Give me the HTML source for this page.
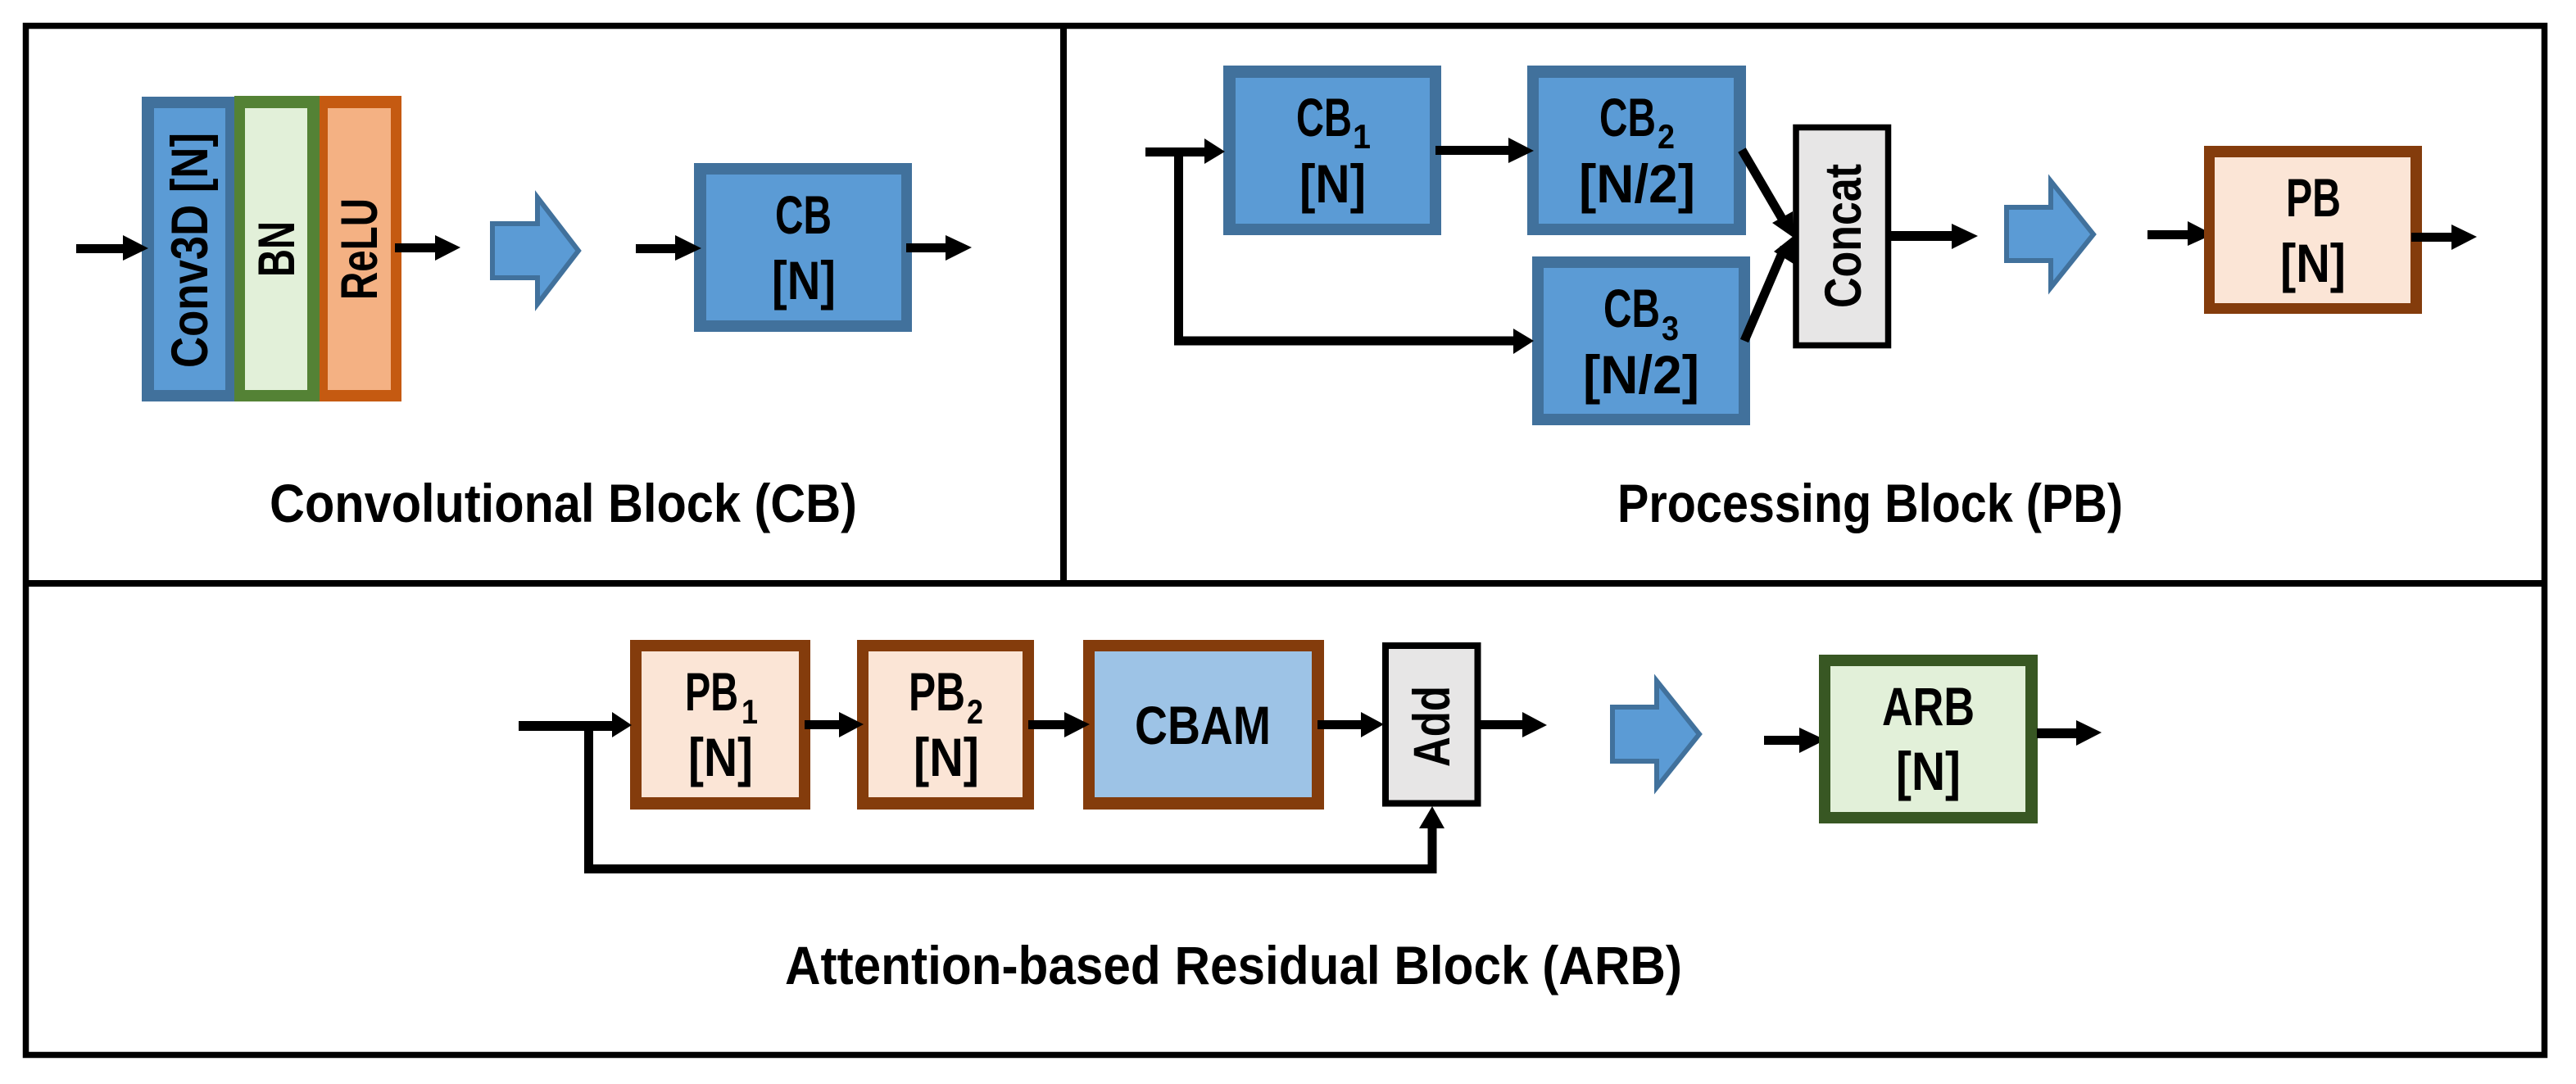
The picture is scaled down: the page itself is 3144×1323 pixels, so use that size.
<!DOCTYPE html>
<html>
<head>
<meta charset="utf-8">
<style>
html,body{margin:0;padding:0;background:#fff;width:3144px;height:1323px;overflow:hidden}
svg{display:block}
text{font-family:"Liberation Sans",sans-serif;font-weight:bold;fill:#000}
.t{font-size:66px}
.s{font-size:42px}
.r{font-size:63px}
</style>
</head>
<body>
<svg width="3144" height="1323" viewBox="0 0 3144 1323" xmlns="http://www.w3.org/2000/svg">
<rect width="3144" height="1323" fill="#fff"/>
<!-- Frame -->
<rect x="31.5" y="31.5" width="3074" height="1256" fill="none" stroke="#000" stroke-width="7.5"/>
<rect x="28" y="708" width="3081" height="8" fill="#000"/>
<rect x="1294" y="28" width="8" height="684" fill="#000"/>

<!-- CB panel -->
<rect x="173" y="118" width="113" height="372" fill="#41719C"/>
<rect x="188" y="132" width="87" height="344" fill="#5B9BD5"/>
<rect x="286" y="117" width="104" height="373" fill="#548235"/>
<rect x="299" y="132" width="76" height="344" fill="#E2F0D9"/>
<rect x="390" y="117" width="100" height="373" fill="#C55A11"/>
<rect x="400" y="132" width="77" height="344" fill="#F4B183"/>
<text class="r" transform="translate(253,449) rotate(-90)" textLength="287" lengthAdjust="spacingAndGlyphs">Conv3D [N]</text>
<text class="r" transform="translate(359,338) rotate(-90)" textLength="68" lengthAdjust="spacingAndGlyphs">BN</text>
<text class="r" transform="translate(460,366) rotate(-90)" textLength="124" lengthAdjust="spacingAndGlyphs">ReLU</text>

<rect x="93" y="298" width="60" height="11" fill="#000"/><polygon points="150,287 181,303 150,318" fill="#000"/>
<rect x="482" y="297" width="52" height="11" fill="#000"/><polygon points="531,287 562,302 531,318" fill="#000"/>
<polygon points="601,273 656,273 656,241 706,306 656,371 656,339 601,339" fill="#5B9BD5" stroke="#41719C" stroke-width="6" stroke-miterlimit="10"/>

<rect x="847" y="199" width="266" height="206" fill="#41719C"/>
<rect x="862" y="213" width="238" height="178" fill="#5B9BD5"/>
<text class="t" x="946" y="285" textLength="69" lengthAdjust="spacingAndGlyphs">CB</text>
<text class="t" x="942" y="365" textLength="78" lengthAdjust="spacingAndGlyphs">[N]</text>
<rect x="776" y="298" width="50" height="11" fill="#000"/><polygon points="824,287 856,303 824,318" fill="#000"/>
<rect x="1106" y="297" width="50" height="11" fill="#000"/><polygon points="1154,287 1186,302 1154,318" fill="#000"/>
<text class="t" x="329" y="637" textLength="717" lengthAdjust="spacingAndGlyphs">Convolutional Block (CB)</text>

<!-- PB panel -->
<rect x="1493" y="80" width="266" height="207" fill="#41719C"/>
<rect x="1508" y="95" width="237" height="178" fill="#5B9BD5"/>
<rect x="1864" y="80" width="267" height="207" fill="#41719C"/>
<rect x="1878" y="95" width="238" height="178" fill="#5B9BD5"/>
<rect x="1870" y="313" width="266" height="206" fill="#41719C"/>
<rect x="1884" y="327" width="238" height="178" fill="#5B9BD5"/>

<text class="t" x="1582" y="166" textLength="68" lengthAdjust="spacingAndGlyphs">CB</text>
<text class="s" x="1651" y="181" textLength="22" lengthAdjust="spacingAndGlyphs">1</text>
<text class="t" x="1586" y="247" textLength="81" lengthAdjust="spacingAndGlyphs">[N]</text>
<text class="t" x="1952" y="166" textLength="69" lengthAdjust="spacingAndGlyphs">CB</text>
<text class="s" x="2023" y="181" textLength="21" lengthAdjust="spacingAndGlyphs">2</text>
<text class="t" x="1927" y="247" textLength="142" lengthAdjust="spacingAndGlyphs">[N/2]</text>
<text class="t" x="1957" y="399" textLength="69" lengthAdjust="spacingAndGlyphs">CB</text>
<text class="s" x="2028" y="415" textLength="21" lengthAdjust="spacingAndGlyphs">3</text>
<text class="t" x="1932" y="480" textLength="142" lengthAdjust="spacingAndGlyphs">[N/2]</text>

<rect x="2192" y="155.5" width="112.5" height="266" fill="#E7E6E6" stroke="#000" stroke-width="7.5"/>
<text class="r" transform="translate(2271,376) rotate(-90)" textLength="176" lengthAdjust="spacingAndGlyphs">Concat</text>

<rect x="1398" y="180" width="75" height="11" fill="#000"/><polygon points="1470,169 1495,185 1470,200" fill="#000"/>
<path d="M1438.5 185 V416 H1850" fill="none" stroke="#000" stroke-width="11"/>
<polygon points="1847,401 1872,416 1847,432" fill="#000"/>
<rect x="1752" y="178" width="92" height="11" fill="#000"/><polygon points="1841,168 1872,184 1841,199" fill="#000"/>
<line x1="2126" y1="183" x2="2178" y2="272" stroke="#000" stroke-width="11"/>
<polygon points="2163,272 2189,290 2188,258" fill="#000"/>
<line x1="2129" y1="416" x2="2178" y2="302" stroke="#000" stroke-width="11"/>
<polygon points="2165,307 2189,288 2189,322" fill="#000"/>

<rect x="2308" y="282" width="77" height="12" fill="#000"/><polygon points="2382,273 2414,288 2382,304" fill="#000"/>
<polygon points="2449,253 2503,253 2503,221 2555,286 2503,351 2503,318 2449,318" fill="#5B9BD5" stroke="#41719C" stroke-width="6" stroke-miterlimit="10"/>
<rect x="2621" y="281" width="52" height="11" fill="#000"/><polygon points="2670,270 2701,286 2670,300" fill="#000"/>
<rect x="2690" y="178" width="266" height="205" fill="#843C0C"/>
<rect x="2703" y="192" width="239" height="178" fill="#FBE5D6"/>
<text class="t" x="2790" y="264" textLength="67" lengthAdjust="spacingAndGlyphs">PB</text>
<text class="t" x="2783" y="344" textLength="80" lengthAdjust="spacingAndGlyphs">[N]</text>
<rect x="2943" y="284" width="52" height="11" fill="#000"/><polygon points="2992,274 3023,289 2992,305" fill="#000"/>
<text class="t" x="1974" y="637" textLength="617" lengthAdjust="spacingAndGlyphs">Processing Block (PB)</text>

<!-- ARB panel -->
<rect x="769" y="781" width="220" height="207" fill="#843C0C"/>
<rect x="783" y="795" width="192" height="178" fill="#FBE5D6"/>
<rect x="1046" y="781" width="216" height="207" fill="#843C0C"/>
<rect x="1060" y="795" width="188" height="178" fill="#FBE5D6"/>
<rect x="1322" y="781" width="294" height="207" fill="#843C0C"/>
<rect x="1336" y="795" width="265" height="178" fill="#9DC3E6"/>

<text class="t" x="836" y="867" textLength="65" lengthAdjust="spacingAndGlyphs">PB</text>
<text class="s" x="905" y="883" textLength="20" lengthAdjust="spacingAndGlyphs">1</text>
<text class="t" x="840" y="947" textLength="79" lengthAdjust="spacingAndGlyphs">[N]</text>
<text class="t" x="1109" y="867" textLength="69" lengthAdjust="spacingAndGlyphs">PB</text>
<text class="s" x="1180" y="883" textLength="20" lengthAdjust="spacingAndGlyphs">2</text>
<text class="t" x="1115" y="947" textLength="80" lengthAdjust="spacingAndGlyphs">[N]</text>
<text class="t" x="1385" y="908" textLength="166" lengthAdjust="spacingAndGlyphs">CBAM</text>

<rect x="1691" y="788" width="112.5" height="192.5" fill="#E7E6E6" stroke="#000" stroke-width="8"/>
<text class="r" transform="translate(1769,936) rotate(-90)" textLength="99" lengthAdjust="spacingAndGlyphs">Add</text>

<rect x="633" y="880" width="117" height="12" fill="#000"/><polygon points="747,869 771,885 747,900" fill="#000"/>
<path d="M718.5 886 V1060.5 H1748 V1008" fill="none" stroke="#000" stroke-width="11"/>
<polygon points="1732,1011 1748,984 1763,1011" fill="#000"/>
<rect x="982" y="879" width="45" height="11" fill="#000"/><polygon points="1024,869 1054,884 1024,900" fill="#000"/>
<rect x="1255" y="879" width="47" height="11" fill="#000"/><polygon points="1299,869 1330,884 1299,900" fill="#000"/>
<rect x="1608" y="879" width="56" height="11" fill="#000"/><polygon points="1661,869 1689,884 1661,900" fill="#000"/>
<rect x="1807" y="879" width="54" height="11" fill="#000"/><polygon points="1858,869 1888,885 1858,900" fill="#000"/>

<polygon points="1968,863 2022,863 2022,831 2074,896 2022,961 2022,929 1968,929" fill="#5B9BD5" stroke="#41719C" stroke-width="6" stroke-miterlimit="10"/>
<rect x="2153" y="898" width="46" height="11" fill="#000"/><polygon points="2196,888 2228,903 2196,919" fill="#000"/>
<rect x="2220" y="799" width="267" height="206" fill="#385723"/>
<rect x="2234" y="813" width="238" height="178" fill="#E2F0D9"/>
<text class="t" x="2297" y="885" textLength="113" lengthAdjust="spacingAndGlyphs">ARB</text>
<text class="t" x="2314" y="964" textLength="79" lengthAdjust="spacingAndGlyphs">[N]</text>
<rect x="2486" y="889" width="51" height="12" fill="#000"/><polygon points="2534,879 2565,894 2534,910" fill="#000"/>
<text class="t" x="958" y="1201" textLength="1095" lengthAdjust="spacingAndGlyphs">Attention-based Residual Block (ARB)</text>
</svg>
</body>
</html>
